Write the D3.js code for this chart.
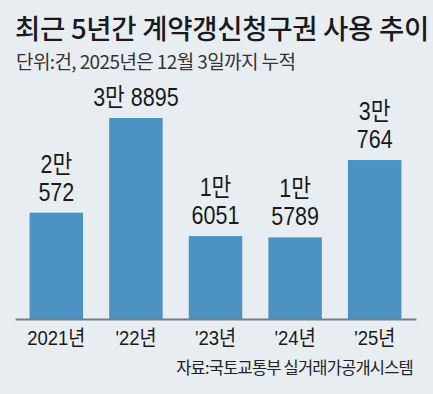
<!DOCTYPE html>
<html>
<head>
<meta charset="utf-8">
<script src="https://cdn.jsdelivr.net/npm/d3@7"></script>
<style>
  html, body { margin: 0; padding: 0; background: #e8edf2; }
  svg { display: block; }
</style>
</head>
<body>
<svg id="chart"></svg>
<script>
// values
const years = ["2021년", "'22년", "'23년", "'24년", "'25년"];
const counts = [20572, 38895, 16051, 15789, 30764];
const labelLines = [["2만", "572"], ["3만 8895"], ["1만", "6051"], ["1만", "5789"], ["3만", "764"]];

const width = 433, height = 394;
const margin = { top: 118, right: 17, bottom: 75, left: 15 };
const krFont = "\"Noto Sans CJK KR\", \"Noto Sans\", sans-serif";
const numFont = "\"Liberation Sans\", \"Noto Sans CJK KR\", sans-serif";

const svg = d3.select("#chart")
    .attr("width", width)
    .attr("height", height)
    .style("font-family", krFont);

svg.append("rect")
    .attr("width", width)
    .attr("height", height)
    .attr("fill", "#e8edf2");

// title + unit line
svg.append("text")
    .attr("x", 15)
    .attr("y", 39)
    .attr("font-size", 27.5)
    .attr("font-weight", 500)
    .attr("letter-spacing", -0.3)
    .attr("fill", "#1a1a1a")
    .text("최근 5년간 계약갱신청구권 사용 추이");

svg.append("text")
    .attr("x", 16)
    .attr("y", 69)
    .attr("font-size", 19)
    .attr("fill", "#333")
    .attr("letter-spacing", -0.6)
    .text("단위:건, 2025년은 12월 3일까지 누적");

const x = d3.scaleBand()
    .domain(years)
    .range([15, 416])
    .paddingInner(0.328)
    .paddingOuter(0.183);

const y = d3.scaleLinear()
    .domain([0, d3.max(counts)])
    .range([height - margin.bottom, margin.top]);

const g = svg.append("g");

g.selectAll("rect.bar")
    .data(counts)
    .enter().append("rect")
    .attr("class", "bar")
    .attr("x", (d, i) => x(years[i]))
    .attr("y", d => y(d))
    .attr("width", x.bandwidth())
    .attr("height", d => y(0) - y(d))
    .attr("fill", "#4a93c3");

// value labels, one or two lines above each bar (one text per line, narrowed)
counts.forEach((d, i) => {
    const lines = labelLines[i];
    const cx = x(years[i]) + x.bandwidth() / 2;
    const base = y(d) - 12;
    lines.forEach((t, j) => {
        g.append("text")
            .attr("class", "val")
            .attr("transform", "translate(" + cx + "," + (base - (lines.length - 1 - j) * 28) + ") scale(0.86,1)")
            .attr("text-anchor", "middle")
            .attr("font-size", 25)
            .attr("fill", "#1a1a1a")
            .style("font-family", numFont)
            .text(t);
    });
});

// x axis
const xAxis = d3.axisBottom(x).tickSize(0).tickPadding(0);
const ax = svg.append("g")
    .attr("transform", "translate(0," + y(0) + ")")
    .call(xAxis);
ax.select(".domain")
    .attr("stroke", "#7a7f86")
    .attr("stroke-width", 2);
ax.selectAll(".tick text")
    .attr("y", 0)
    .attr("dy", 0)
    .attr("transform", "translate(0,26) scale(0.88,1)")
    .attr("font-size", 21)
    .attr("fill", "#1a1a1a")
    .style("font-family", numFont);

// source
svg.append("text")
    .attr("x", 413)
    .attr("y", 374)
    .attr("text-anchor", "end")
    .attr("font-size", 16.5)
    .attr("letter-spacing", -0.8)
    .attr("fill", "#222")
    .text("자료:국토교통부 실거래가공개시스템");
</script>
</body>
</html>
